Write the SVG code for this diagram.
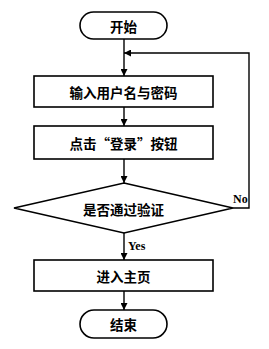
<svg xmlns="http://www.w3.org/2000/svg" width="269" height="349" viewBox="0 0 269 349">
<style>
.b{fill:#fff;stroke:#000;stroke-width:1.6}
.t{font-family:"Noto Sans CJK SC","Noto Sans",sans-serif;font-weight:bold;font-size:13.5px;text-anchor:middle;dominant-baseline:central;fill:#000}
.l{font-family:"Liberation Serif",serif;font-weight:bold;font-size:12px;fill:#000}
.c{fill:none;stroke:#000;stroke-width:1.4}
</style>
<defs>
<marker id="a" viewBox="0 0 10 10" refX="10" refY="5" markerWidth="7" markerHeight="7" markerUnits="userSpaceOnUse" orient="auto">
<path d="M0,0L10,5L0,10z" fill="#000"/>
</marker>
</defs>
<rect width="269" height="349" fill="#fff"/>
<g id="connectors">
<line class="c" x1="124" y1="39" x2="124" y2="76" marker-end="url(#a)"/>
<line class="c" x1="124" y1="107" x2="124" y2="126" marker-end="url(#a)"/>
<line class="c" x1="124" y1="159" x2="124" y2="183" marker-end="url(#a)"/>
<line class="c" x1="124" y1="233" x2="124" y2="260" marker-end="url(#a)"/>
<line class="c" x1="124" y1="291" x2="124" y2="310" marker-end="url(#a)"/>
<polyline class="c" points="233,208 249,208 249,53 124,53" marker-end="url(#a)"/>
<text class="l" x="233" y="203">No</text>
<text class="l" x="128" y="250">Yes</text>
</g>
<g id="start">
<rect class="b" x="80" y="12" width="87" height="27" rx="13.5"/>
<text class="t" x="123.5" y="25.5">开始</text>
</g>
<g id="input">
<rect class="b" x="34" y="76" width="179" height="31"/>
<text class="t" x="123.5" y="92">输入用户名与密码</text>
</g>
<g id="click">
<rect class="b" x="34" y="126" width="179" height="33"/>
<text class="t" x="123.5" y="143">点击“登录”按钮</text>
</g>
<g id="verify">
<polygon class="b" points="124,183 233,208 124,233 14,208"/>
<text class="t" x="123.5" y="209">是否通过验证</text>
</g>
<g id="home">
<rect class="b" x="34" y="260" width="179" height="31"/>
<text class="t" x="123.5" y="276">进入主页</text>
</g>
<g id="end">
<rect class="b" x="80" y="310" width="87" height="28" rx="14"/>
<text class="t" x="123.5" y="324">结束</text>
</g>
</svg>
